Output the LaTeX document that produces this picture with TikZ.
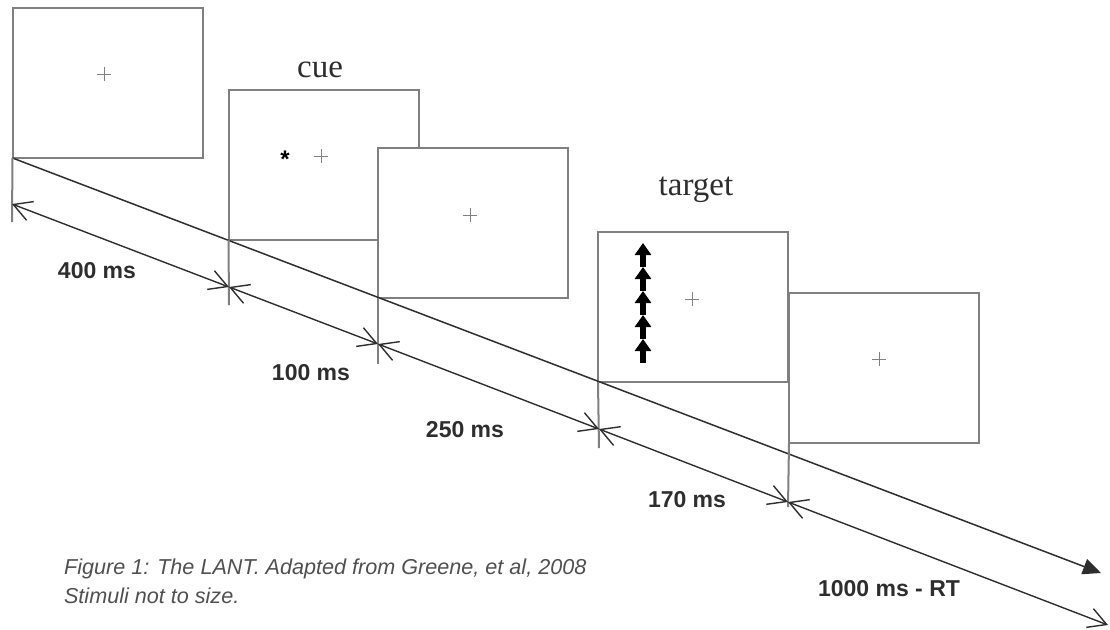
\documentclass[tikz,border=0pt]{standalone}
\usepackage{fontspec}
\setmainfont{Liberation Serif}
\setsansfont{Liberation Sans}
\usetikzlibrary{arrows.meta, positioning, calc}
\definecolor{framegray}{HTML}{808080}
\definecolor{linedark}{HTML}{2E2E2E}
\definecolor{inkgray}{HTML}{505050}

\tikzset{
  screen/.style={draw=framegray, line width=1pt, fill=white, minimum width=95pt,
    minimum height=75pt, inner sep=0pt, outer sep=0pt},
  timeline/.style={draw=linedark, line width=0.75pt, -{Triangle[length=9pt, width=8pt]}},
  spanline/.style={draw=linedark, line width=0.7pt,
    {Straight Barb[length=9pt, width=10pt]}-{Straight Barb[length=9pt, width=10pt]}},
  tickline/.style={draw=framegray, line width=1pt},
  fixmark/.style={draw=gray, line width=0.5pt},
  spanlabel/.style={font=\sffamily\bfseries\fontsize{11.5}{12}\selectfont, text=linedark},
  phaselabel/.style={font=\fontsize{16.5}{18}\selectfont, text=linedark},
  captiontext/.style={font=\sffamily\itshape\fontsize{10.8}{12}\selectfont, text=inkgray, anchor=base west}
}

\begin{document}
\begin{tikzpicture}[x=0.5pt, y=-0.5pt]
\useasboundingbox (0,0) rectangle (1110,629);

% screens, drawn left to right so each one hides the previous
\node[screen] (fixA) at (107.5,83) {};
\node[screen] (cueScr) at (323.5,165) {};
\node[screen] (fixB) at (473,223) {};
\node[screen] (targetScr) at (693,307) {};
\node[screen] (fixC) at (884,368) {};

\node[phaselabel] (cueLbl) at (320,70) {cue};
\node[phaselabel] (targetLbl) at (696,190) {target};

% fixation crosses
\foreach \p in {(104,74), (321,156), (470,215), (692,299), (879,359)} {
  \draw[fixmark] \p +(-7,0) -- +(7,0) +(0,-7) -- +(0,7);
}
\node[font=\sffamily\bfseries\fontsize{12}{12}\selectfont, anchor=base] (cueStar) at (285,167) {*};

% flanker arrows
\foreach \k in {0,...,4} {
  \draw[line width=2.6pt, -{Triangle[length=6pt, width=8pt]}]
    (643,{267+24*\k}) -- (643,{243+24*\k});
}

% time line
\coordinate (tEnd) at (1101,573);
\draw[timeline] (fixA.south west) -- (tEnd);

% interval marks
\coordinate (d1) at (12,204);
\coordinate (d2) at (229,287);
\coordinate (d3) at (378,344);
\coordinate (d4) at (599,429);
\coordinate (d5) at (788,502);
\coordinate (d6) at (1108,625);

\foreach \s/\d/\e in {fixA/d1/18, cueScr/d2/18, fixB/d3/20, targetScr/d4/19, fixC/d5/5} {
  \draw[tickline] (\s.south west) -- ($(\d)+(0,\e)$);
}

\draw[spanline] (d1) -- (d2);
\draw[spanline] (d2) -- (d3);
\draw[spanline] (d3) -- (d4);
\draw[spanline] (d4) -- (d5);
\draw[spanline] (d5) -- (d6);

\node[spanlabel] (span1) at (97,271) {400 ms};
\node[spanlabel] (span2) at (311,373) {100 ms};
\node[spanlabel] (span3) at (465,430) {250 ms};
\node[spanlabel] (span4) at (687,500) {170 ms};
\node[spanlabel] (span5) at (889,589) {1000 ms - RT};

\node[captiontext] (cap1) at (57,574) {Figure 1: The LANT. Adapted from Greene, et al, 2008};
\node[captiontext] (cap2) at (57,603) {Stimuli not to size.};
\end{tikzpicture}
\end{document}
